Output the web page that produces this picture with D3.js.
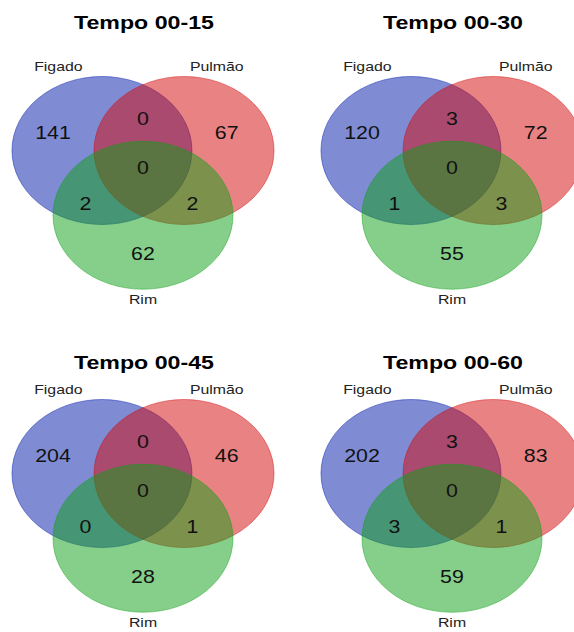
<!DOCTYPE html>
<html>
<head>
<meta charset="utf-8">
<script src="https://cdn.jsdelivr.net/npm/d3@7"></script>
<style>
  html, body { margin: 0; padding: 0; background: #fff; }
  svg { display: block; }
  text { font-family: "Liberation Sans", Arial, Helvetica, sans-serif; }
</style>
</head>
<body>
<svg id="chart" width="574" height="632"></svg>
<script>
// Venn counts for four time windows
const titles = ["Tempo 00-15", "Tempo 00-30", "Tempo 00-45", "Tempo 00-60"];
const setNames = ["Figado", "Pulmão", "Rim"];

const onlyFigado   = [141, 120, 204, 202];
const onlyPulmao   = [67, 72, 46, 83];
const onlyRim      = [62, 55, 28, 59];
const figadoPulmao = [0, 3, 0, 3];
const figadoRim    = [2, 1, 0, 3];
const pulmaoRim    = [2, 3, 1, 1];
const allThree     = [0, 0, 0, 0];

// Region table built from the arrays above
const regions = [
  { key: "F",   values: onlyFigado,   pos: [-1.00, -0.24] },
  { key: "FP",  values: figadoPulmao, pos: [ 0.00, -0.43] },
  { key: "P",   values: onlyPulmao,   pos: [ 0.93, -0.24] },
  { key: "FPR", values: allThree,     pos: [ 0.00,  0.23] },
  { key: "FR",  values: figadoRim,    pos: [-0.64,  0.72] },
  { key: "PR",  values: pulmaoRim,    pos: [ 0.55,  0.72] },
  { key: "R",   values: onlyRim,      pos: [ 0.00,  1.39] }
];

// Set circles in unit coordinates (radius 1), with label anchors
const circles = [
  { name: setNames[0], cx: -0.456, cy: 0.00, fill: "rgb(0,25,170)",  label: [-0.94, -1.07] },
  { name: setNames[1], cx:  0.456, cy: 0.00, fill: "rgb(211,8,8)",   label: [ 0.82, -1.07] },
  { name: setNames[2], cx:  0.00,  cy: 0.875, fill: "rgb(14,160,22)", label: [ 0.00,  2.07] }
];

const svg = d3.select("#chart");
const stretch = 1.22;          // horizontal stretch of the whole figure
const unitX = 90, unitY = 74;  // pixels per unit radius

const colX = d3.scaleLinear().domain([0, 1]).range([143, 452]);
const rowY = d3.scaleLinear().domain([0, 1]).range([150.5, 473.5]);
const titleY = [29, 369];

function stretchedText(g, x, y, txt, size, weight, color) {
  g.append("text")
    .attr("transform", `translate(${x},${y}) scale(${stretch},1)`)
    .attr("text-anchor", "middle")
    .style("font-size", size + "px")
    .style("font-weight", weight)
    .attr("fill", color)
    .text(txt);
}

titles.forEach((title, i) => {
  const col = i % 2, row = Math.floor(i / 2);
  const cx0 = colX(col), cy0 = rowY(row);
  const x = d3.scaleLinear().domain([-1, 1]).range([cx0 - unitX, cx0 + unitX]);
  const y = d3.scaleLinear().domain([-1, 1]).range([cy0 - unitY, cy0 + unitY]);

  const g = svg.append("g").attr("class", "venn");

  g.selectAll("ellipse")
    .data(circles)
    .join("ellipse")
    .attr("cx", d => x(d.cx))
    .attr("cy", d => y(d.cy))
    .attr("rx", unitX)
    .attr("ry", unitY)
    .attr("fill", d => d.fill)
    .attr("fill-opacity", 0.5)
    .attr("stroke", d => d.fill)
    .attr("stroke-opacity", 0.45)
    .attr("stroke-width", 1);

  stretchedText(g, cx0 + 1, titleY[row], title, 19, "bold", "#000");

  circles.forEach(c => {
    stretchedText(g, x(c.label[0]), y(c.label[1]), c.name, 13, "normal", "#222");
  });

  regions.forEach(r => {
    stretchedText(g, x(r.pos[0]), y(r.pos[1]) + 6.3, r.values[i], 17.5, "normal", "#111");
  });
});
</script>
</body>
</html>
